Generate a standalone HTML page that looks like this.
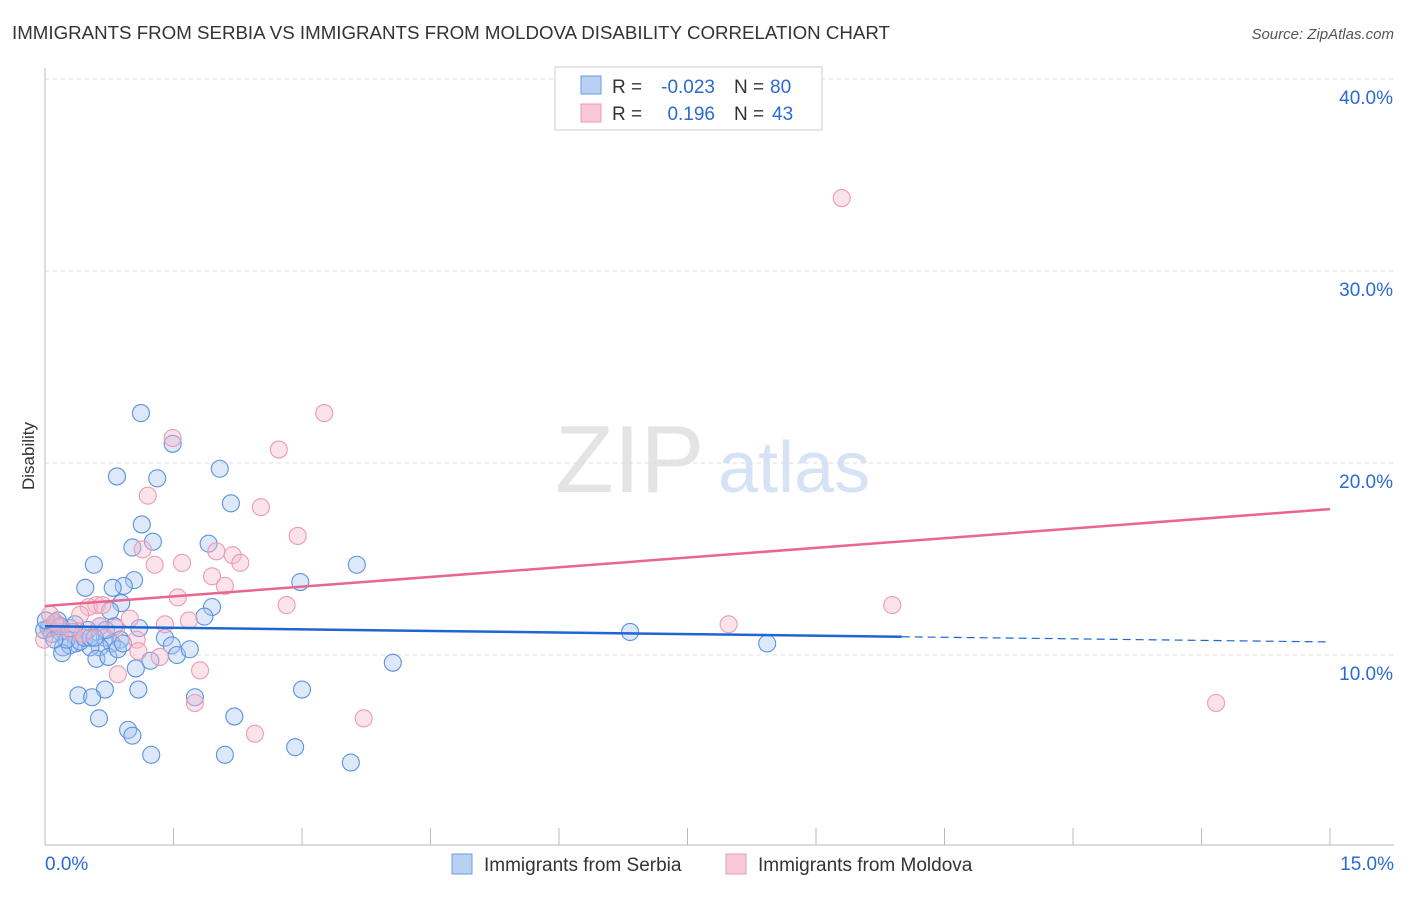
<!DOCTYPE html>
<html><head><meta charset="utf-8"><style>
body{margin:0;background:#fff;font-family:"Liberation Sans",sans-serif;}
svg text{font-family:"Liberation Sans",sans-serif;}
</style></head><body>
<svg id="chart" width="1406" height="892">
<text x="12" y="39" font-size="18" fill="#333" textLength="878" lengthAdjust="spacingAndGlyphs">IMMIGRANTS FROM SERBIA VS IMMIGRANTS FROM MOLDOVA DISABILITY CORRELATION CHART</text>
<text x="1394" y="39" font-size="15" fill="#555" font-style="italic" text-anchor="end">Source: ZipAtlas.com</text>
<text x="34" y="456" font-size="17" fill="#333" text-anchor="middle" transform="rotate(-90 34 456)">Disability</text>
<text x="555" y="492" font-size="96" fill="#e4e4e4" font-family="Liberation Serif">ZIP</text>
<text x="718" y="492" font-size="72" fill="#d5e3f5">atlas</text>
<g id="grid"></g><g id="axes"></g><g id="marks"></g><g id="trend"></g>
<g>
<rect x="555" y="67" width="267" height="63" fill="#fff" stroke="#ccc"/>
<rect x="581" y="76" width="20" height="18" fill="#b8d0f2" stroke="#6a9be0"/>
<rect x="581" y="104" width="20" height="18" fill="#f9c8d6" stroke="#ee9ab3"/>
<text x="612" y="93" font-size="19" fill="#333">R =</text>
<text x="715" y="93" font-size="19" fill="#2a6ad4" text-anchor="end">-0.023</text>
<text x="734" y="93" font-size="19" fill="#333">N =</text>
<text x="770" y="93" font-size="19" fill="#2a6ad4">80</text>
<text x="612" y="120" font-size="19" fill="#333">R =</text>
<text x="715" y="120" font-size="19" fill="#2a6ad4" text-anchor="end">0.196</text>
<text x="734" y="120" font-size="19" fill="#333">N =</text>
<text x="772" y="120" font-size="19" fill="#2a6ad4">43</text>
</g>
<g>
<rect x="452" y="854" width="20" height="20" fill="#b8d0f2" stroke="#6a9be0"/>
<text x="484" y="871" font-size="19" fill="#333">Immigrants from Serbia</text>
<rect x="726" y="854" width="20" height="20" fill="#f9c8d6" stroke="#ee9ab3"/>
<text x="758" y="871" font-size="19" fill="#333">Immigrants from Moldova</text>
</g>
</svg>
<script>
const yTicks=[10,20,30,40];
const xTickLabels=["0.0%","15.0%"];
const serbiaX=[1.12,1.49,0.84,1.31,2.04,2.17,1.13,1.02,1.26,1.91,0.57,3.64,1.04,0.92,0.47,0.79,2.98,0.89,1.95,1.86,1.10,0.81,0.64,0.13,0.06,0.18,0.33,0.50,0.70,0.88,0.36,0.78,1.40,1.48,0.64,0.53,0.21,0.29,0.20,0.60,0.74,1.54,4.06,6.83,8.43,0.70,1.09,3.00,0.39,0.55,1.75,0.63,2.21,0.97,1.02,2.92,1.24,2.10,3.57,0.04,0.08,0.25,0.41,-0.01,0.15,0.46,0.85,1.06,0.29,0.53,0.71,0.11,0.01,1.23,1.69,0.76,0.18,0.35,0.58,0.91];
const serbiaY=[22.6,21.0,19.3,19.2,19.7,17.9,16.8,15.6,15.9,15.8,14.7,14.7,13.9,13.6,13.5,13.5,13.8,12.7,12.5,12.0,11.4,11.5,11.5,11.6,11.4,11.2,11.2,11.3,10.9,10.8,10.6,10.6,10.9,10.5,10.4,10.4,10.4,10.5,10.1,9.8,9.9,10.0,9.6,11.2,10.6,8.2,8.2,8.2,7.9,7.8,7.8,6.7,6.8,6.1,5.8,5.2,4.8,4.8,4.4,11.4,11.1,10.8,10.7,11.3,11.8,10.9,10.3,9.3,11.4,10.9,11.3,10.8,11.8,9.7,10.3,12.3,11.5,11.6,10.9,10.6];
const moldovaX=[9.30,3.26,1.49,2.73,1.20,2.52,2.95,1.14,1.60,2.00,2.19,2.28,1.28,1.95,2.10,1.55,2.82,9.89,0.60,0.51,0.67,7.98,1.40,0.99,0.83,1.68,0.64,1.07,0.06,0.18,0.32,0.44,0.12,-0.01,1.81,0.85,1.34,1.09,1.75,3.72,2.45,13.67,0.41];
const moldovaY=[33.8,22.6,21.3,20.7,18.3,17.7,16.2,15.5,14.8,15.4,15.2,14.8,14.7,14.1,13.6,13.0,12.6,12.6,12.6,12.5,12.6,11.6,11.6,11.9,11.4,11.8,11.5,10.8,12.1,11.4,11.2,11.1,11.7,10.8,9.2,9.0,9.9,10.2,7.5,6.7,5.9,7.5,12.1];
const NS="http://www.w3.org/2000/svg";
const X0=45,X1=1330,YB=847,PX=19.2;
const sx=v=>X0+(v/15)*(X1-X0);
const sy=v=>YB-v*PX;
function mk(t,a,p){const e=document.createElementNS(NS,t);for(const k in a)e.setAttribute(k,a[k]);p.appendChild(e);return e;}
const grid=document.getElementById('grid'),axes=document.getElementById('axes'),marks=document.getElementById('marks'),trend=document.getElementById('trend');
yTicks.forEach(t=>{
 const l=mk('line',{x1:X0,x2:1394,y1:sy(t),y2:sy(t),stroke:'#ddd','stroke-dasharray':'4 4'},grid);
 
 
 const tx=mk('text',{x:1393,y:sy(t)+25,'font-size':19,fill:'#2a6ad4','text-anchor':'end'},axes);
 tx.textContent=t.toFixed(1)+'%';
 
 
});
const ax=mk('line',{x1:X0,x2:X0,y1:68,y2:845,stroke:'#bbb'},axes);


const bx=mk('line',{x1:X0,x2:1394,y1:845,y2:845,stroke:'#bbb'},axes);


for(let i=0;i<=10;i++){const v=i*1.5;const t=mk('line',{x1:sx(v),x2:sx(v),y1:828,y2:845,stroke:'#bbb'},axes);
 
 }
[[0,'start',45],[15,'end',1394]].forEach((d,i)=>{const t=mk('text',{x:d[2],y:870,'font-size':19,fill:'#2a6ad4','text-anchor':d[1]},axes);t.textContent=xTickLabels[i];
 
 });
function pts(xs,ys,fill,stroke,name){xs.forEach((x,i)=>{const c=mk('circle',{cx:sx(x),cy:sy(ys[i]),r:8.5,fill:fill,'fill-opacity':0.4,stroke:stroke,'stroke-width':1.1},marks);
 
 });}
pts(serbiaX,serbiaY,'#a9c6ef','#5b92e2','serbia-point');
pts(moldovaX,moldovaY,'#f6b8cb','#ee9ab3','moldova-point');
const bl=mk('line',{x1:sx(0),y1:sy(11.5),x2:sx(10),y2:sy(10.95),stroke:'#1f66d1','stroke-width':2.5},trend);


const bd=mk('line',{x1:sx(10),y1:sy(10.95),x2:sx(15),y2:sy(10.68),stroke:'#1f66d1','stroke-width':1.2,'stroke-dasharray':'8 5'},trend);


const pl=mk('line',{x1:sx(0),y1:sy(12.55),x2:sx(15),y2:sy(17.6),stroke:'#e8668f','stroke-width':2.5},trend);


</script>
</body></html>
